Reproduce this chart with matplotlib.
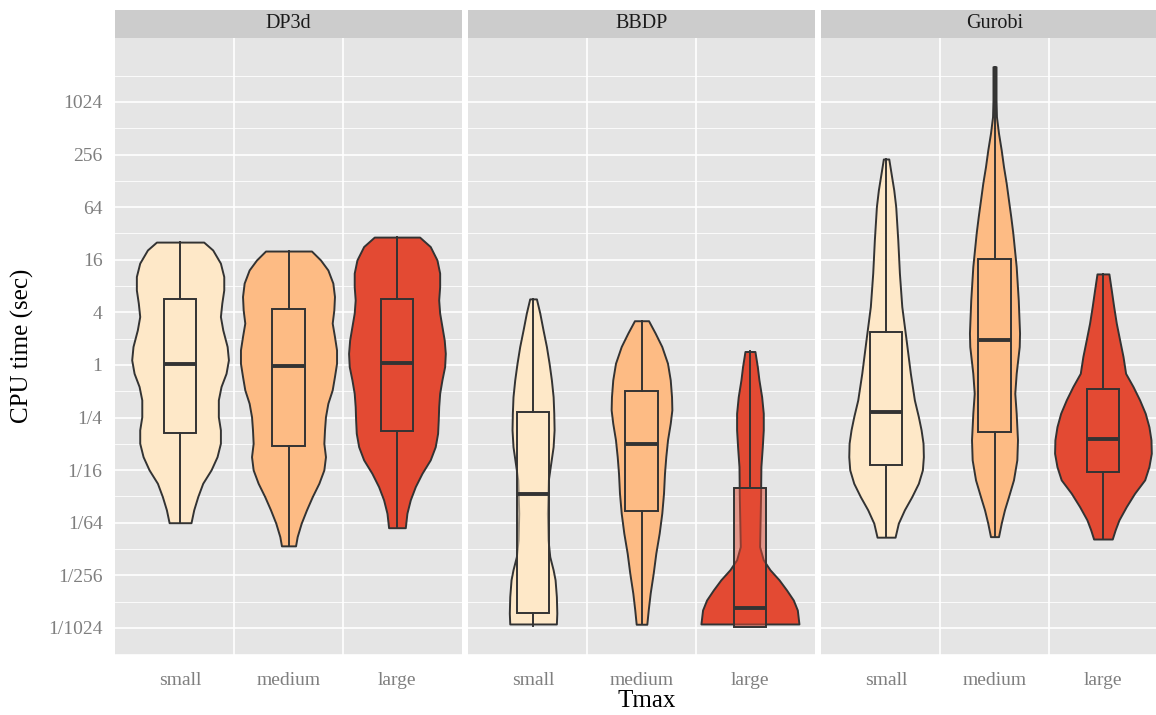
import numpy as np
import matplotlib.pyplot as plt
from matplotlib.colors import to_rgba

plt.rcParams['font.family'] = ['Liberation Serif', 'DejaVu Serif']

# solvers (facets) and Tmax classes
solvers = ['DP3d', 'BBDP', 'Gurobi']
sizes = ['small', 'medium', 'large']
colors = ['#FEE8C8', '#FDBB84', '#E34A33']

# y breaks (log2 of CPU time in sec)
major_breaks = [-10, -8, -6, -4, -2, 0, 2, 4, 6, 8, 10]
break_labels = ['1/1024', '1/256', '1/64', '1/16', '1/4', '1', '4', '16', '64', '256', '1024']
minor_breaks = [-11, -9, -7, -5, -3, -1, 1, 3, 5, 7, 9, 11]

# violin outlines: log2(time) and half width (category units)
dp3d_small_y = [4.67, 4.37, 3.87, 3.36, 2.85, 2.35, 1.84, 1.33, 0.70, 0.19, -0.32, -0.82,
                -1.33, -1.97, -2.47, -2.98, -3.49, -3.99, -4.50, -5.01, -5.51, -6.00]
dp3d_small_w = [0.218, 0.301, 0.372, 0.403, 0.403, 0.385, 0.372, 0.394, 0.434, 0.446, 0.424, 0.378,
                0.353, 0.353, 0.372, 0.372, 0.341, 0.286, 0.209, 0.163, 0.126, 0.101]
dp3d_medium_y = [4.33, 3.99, 3.61, 3.11, 2.60, 2.09, 1.59, 1.08, 0.57, 0.06, -0.44, -0.95,
                 -1.46, -1.97, -2.47, -2.98, -3.49, -3.99, -4.50, -5.01, -5.51, -6.02, -6.53, -6.88]
dp3d_medium_w = [0.212, 0.295, 0.363, 0.409, 0.424, 0.418, 0.403, 0.424, 0.443, 0.443, 0.424, 0.403,
                 0.363, 0.341, 0.332, 0.326, 0.341, 0.326, 0.280, 0.219, 0.166, 0.117, 0.080, 0.065]
dp3d_large_y = [4.86, 4.50, 3.99, 3.49, 2.98, 2.47, 1.97, 1.46, 0.95, 0.44, -0.06, -0.57,
                -1.08, -1.59, -2.09, -2.60, -3.11, -3.61, -4.12, -4.63, -5.13, -5.64, -6.19]
dp3d_large_w = [0.209, 0.307, 0.369, 0.394, 0.394, 0.385, 0.394, 0.415, 0.436, 0.446, 0.440, 0.415,
                0.394, 0.385, 0.381, 0.375, 0.353, 0.307, 0.231, 0.169, 0.123, 0.092, 0.077]

bbdp_small_y = [2.51, 1.97, 1.33, 0.70, 0.06, -0.57, -1.21, -1.84, -2.47, -3.11, -3.74, -4.37,
                -5.64, -6.65, -7.29, -7.79, -8.17, -8.81, -9.44, -9.85]
bbdp_small_w = [0.031, 0.062, 0.092, 0.123, 0.148, 0.169, 0.185, 0.191, 0.194, 0.185, 0.163, 0.141,
                0.132, 0.138, 0.154, 0.185, 0.203, 0.215, 0.219, 0.215]
bbdp_medium_y = [1.68, 1.21, 0.70, 0.06, -0.57, -1.21, -1.71, -2.22, -2.85, -3.49, -4.12, -4.88,
                 -5.64, -6.40, -7.16, -7.92, -8.68, -9.32, -9.86]
bbdp_medium_w = [0.065, 0.126, 0.187, 0.240, 0.265, 0.277, 0.280, 0.265, 0.240, 0.224, 0.212, 0.203,
                 0.187, 0.163, 0.132, 0.108, 0.080, 0.062, 0.049]
bbdp_large_y = [0.51, -0.06, -0.57, -1.21, -1.84, -2.47, -3.11, -3.87, -5.01, -6.27, -6.91, -7.41,
                -7.79, -8.17, -8.56, -8.94, -9.32, -9.85]
bbdp_large_w = [0.046, 0.068, 0.083, 0.108, 0.123, 0.123, 0.114, 0.101, 0.098, 0.092, 0.089, 0.123,
                0.185, 0.268, 0.338, 0.400, 0.437, 0.452]

gurobi_small_y = [7.83, 7.29, 6.65, 6.02, 4.75, 3.49, 2.22, 0.95, -0.32, -1.33, -1.97, -2.47,
                  -2.98, -3.49, -3.99, -4.50, -5.01, -5.51, -6.02, -6.55]
gurobi_small_w = [0.025, 0.046, 0.071, 0.089, 0.108, 0.123, 0.145, 0.185, 0.224, 0.261, 0.298, 0.323,
                  0.341, 0.344, 0.335, 0.298, 0.237, 0.169, 0.113, 0.083]
gurobi_medium_y = [11.34, 10.08, 9.44, 8.81, 8.17, 7.54, 6.91, 6.27, 5.64, 5.01, 3.74, 2.47,
                   1.21, 0.70, -0.32, -1.08, -1.84, -2.85, -3.61, -4.37, -5.01, -5.51, -6.02, -6.53]
gurobi_medium_w = [0.014, 0.014, 0.018, 0.037, 0.062, 0.083, 0.108, 0.129, 0.150, 0.169, 0.200, 0.219,
                   0.231, 0.228, 0.200, 0.187, 0.200, 0.212, 0.206, 0.175, 0.129, 0.092, 0.062, 0.037]
gurobi_large_y = [3.46, 2.85, 2.22, 1.59, 0.95, 0.32, -0.32, -0.82, -1.33, -1.84, -2.35, -2.85,
                  -3.36, -3.87, -4.37, -4.88, -5.39, -5.89, -6.27, -6.62]
gurobi_large_w = [0.055, 0.077, 0.099, 0.123, 0.154, 0.185, 0.209, 0.277, 0.338, 0.390, 0.424, 0.443,
                  0.446, 0.424, 0.385, 0.292, 0.215, 0.148, 0.113, 0.086]

# boxplot stats (log2 sec), order small, medium, large
dp3d_box = {'whislo': [-6.00, -6.88, -6.19], 'q1': [-2.60, -3.08, -2.51], 'med': [0.05, -0.04, 0.08],
            'q3': [2.50, 2.13, 2.51], 'whishi': [4.67, 4.33, 4.86]}
bbdp_box = {'whislo': [-9.92, -9.86, -9.95], 'q1': [-9.44, -5.55, -9.95], 'med': [-4.92, -3.00, -9.25],
            'q3': [-1.78, -0.99, -4.69], 'whishi': [2.51, 1.68, 0.51]}
gurobi_box = {'whislo': [-6.55, -6.53, -6.62], 'q1': [-3.80, -2.55, -4.06], 'med': [-1.78, 0.95, -2.83],
              'q3': [1.24, 4.02, -0.90], 'whishi': [7.83, 11.34, 3.46]}

violins = {
    'DP3d': [(dp3d_small_y, dp3d_small_w), (dp3d_medium_y, dp3d_medium_w), (dp3d_large_y, dp3d_large_w)],
    'BBDP': [(bbdp_small_y, bbdp_small_w), (bbdp_medium_y, bbdp_medium_w), (bbdp_large_y, bbdp_large_w)],
    'Gurobi': [(gurobi_small_y, gurobi_small_w), (gurobi_medium_y, gurobi_medium_w),
               (gurobi_large_y, gurobi_large_w)],
}
boxes = {'DP3d': dp3d_box, 'BBDP': bbdp_box, 'Gurobi': gurobi_box}

W, H = 1156, 715
fig = plt.figure(figsize=(W / 100, H / 100), dpi=100)

PANEL_W = 347
lefts = [115, 468, 821]
TOP, BOTTOM = 38, 655
EDGE = '#333333'

for k, solver in enumerate(solvers):
    ax = fig.add_axes([lefts[k] / W, (H - BOTTOM) / H, PANEL_W / W, (BOTTOM - TOP) / H])
    ax.set_facecolor('#E5E5E5')
    for s in ax.spines.values():
        s.set_visible(False)
    ax.set_xlim(0.4, 3.6)
    ax.set_ylim(-11.03, 12.43)

    for b in minor_breaks:
        ax.axhline(b, color='white', lw=0.6, zorder=0)
    for b in major_breaks:
        ax.axhline(b, color='white', lw=1.2, zorder=0)
    for xv in [1.5, 2.5]:
        ax.axvline(xv, color='white', lw=1.2, zorder=0)

    for i in range(3):
        yv, wv = violins[solver][i]
        stats = [{'coords': np.array(yv), 'vals': np.array(wv), 'mean': 0.0, 'median': 0.0,
                  'min': min(yv), 'max': max(yv)}]
        parts = ax.violin(stats, positions=[i + 1], widths=[2 * max(wv)],
                          showmeans=False, showextrema=False, showmedians=False)
        for body in parts['bodies']:
            body.set_facecolor(colors[i])
            body.set_edgecolor(EDGE)
            body.set_linewidth(1.4)
            body.set_alpha(1)
            body.set_zorder(2)

    bx = boxes[solver]
    bstats = [{'whislo': bx['whislo'][i], 'q1': bx['q1'][i], 'med': bx['med'][i],
               'q3': bx['q3'][i], 'whishi': bx['whishi'][i], 'fliers': []} for i in range(3)]
    res = ax.bxp(bstats, positions=[1, 2, 3], widths=0.3, patch_artist=True, showcaps=False,
                 showfliers=False, manage_ticks=False,
                 boxprops=dict(edgecolor=EDGE, linewidth=1.4),
                 whiskerprops=dict(color=EDGE, linewidth=1.4),
                 medianprops=dict(color=EDGE, linewidth=2.8, solid_capstyle='butt'))
    for i, patch in enumerate(res['boxes']):
        patch.set_facecolor(to_rgba(colors[i], 0.5))
        patch.set_zorder(3)
    for ln in res['whiskers'] + res['medians']:
        ln.set_zorder(4)

    ax.set_xticks([1, 2, 3])
    ax.set_xticklabels(sizes)
    ax.tick_params(axis='both', length=0, labelsize=14, colors='#7F7F7F', pad=9)
    ax.tick_params(axis='x', pad=12)
    ax.set_yticks(major_breaks)
    if k == 0:
        ax.set_yticklabels(break_labels)
    else:
        ax.set_yticklabels([])

    # facet strip
    sax = fig.add_axes([lefts[k] / W, (H - TOP) / H, PANEL_W / W, 28 / H])
    sax.set_facecolor('#CCCCCC')
    sax.set_xticks([])
    sax.set_yticks([])
    for s in sax.spines.values():
        s.set_visible(False)
    sax.text(0.5, 0.5, solver, ha='center', va='center', fontsize=14.5, color='#1A1A1A',
             transform=sax.transAxes)

fig.text(22 / W, 1 - 346 / H, 'CPU time (sec)', rotation=90, ha='center', va='center',
         fontsize=18, color='black')
fig.text(647 / W, 1 - 701 / H, 'Tmax', ha='center', va='center', fontsize=18, color='black')

fig.savefig('out.png', dpi=100)
